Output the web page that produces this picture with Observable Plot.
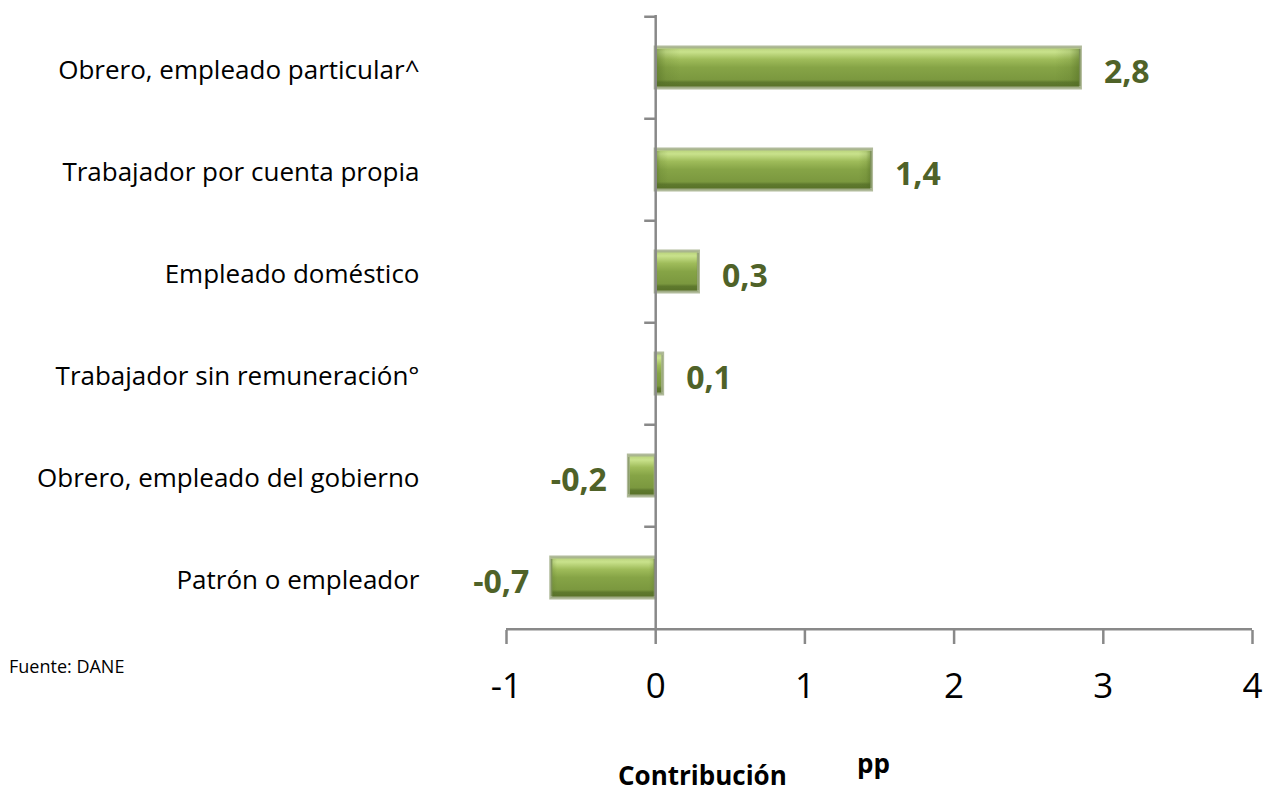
<!DOCTYPE html>
<html>
<head>
<meta charset="utf-8">
<script src="https://cdn.jsdelivr.net/npm/d3@7"></script>
<script src="https://cdn.jsdelivr.net/npm/@observablehq/plot@0.6"></script>
<style>
  html, body { margin: 0; padding: 0; background: #fff; }
  #wrap { position: relative; width: 1266px; height: 791px; font-family: "Open Sans", sans-serif; }
  #chart { position: absolute; left: 0; top: 0; }
  .note { position: absolute; color: #000; white-space: nowrap; line-height: normal; }
</style>
</head>
<body>
<div id="wrap">
  <div id="chart"></div>
  <div class="note" style="left:9px; top:654px; font-size:18px;">Fuente: DANE</div>
  <div class="note" style="left:618px; top:757px; font-size:26px; font-weight:bold;">Contribución</div>
  <div class="note" style="left:857px; top:745px; font-size:26px; font-weight:bold;">pp</div>
</div>
<script>
const categories = [
  "Obrero, empleado particular^",
  "Trabajador por cuenta propia",
  "Empleado doméstico",
  "Trabajador sin remuneración°",
  "Obrero, empleado del gobierno",
  "Patrón o empleador"
];
const values = [2.85, 1.45, 0.29, 0.05, -0.18, -0.70];
const labels = ["2,8", "1,4", "0,3", "0,1", "-0,2", "-0,7"];
const xTicks = [-1, 0, 1, 2, 3, 4];

const data = categories.map((c, i) => ({cat: c, value: values[i], label: labels[i]}));
const pos = data.filter(d => d.value >= 0);
const neg = data.filter(d => d.value < 0);

const W = 1266, H = 720, mTop = 15, mBottom = 90;
const step = (H - mTop - mBottom) / categories.length;
const axisColor = "#898989";
const green = "#4f6228";

const plot = Plot.plot({
  width: W,
  height: H,
  marginLeft: 506,
  marginRight: 14,
  marginTop: mTop,
  marginBottom: mBottom,
  style: {fontFamily: "Open Sans, sans-serif", background: "transparent", overflow: "visible"},
  x: {domain: [-1, 4], ticks: xTicks, axis: null},
  y: {domain: categories, paddingInner: 0.6, paddingOuter: 0.3, axis: null},
  marks: [
    Plot.barX(data, {y: "cat", x: "value", fill: "url(#barGrad)", stroke: "#a7b38f", strokeWidth: 3, strokeOpacity: 0.9}),
    Plot.barX(data, {y: "cat", x: "value", fill: "url(#endGrad)", insetTop: 2, insetBottom: 2}),
    Plot.ruleX([0], {stroke: axisColor, strokeWidth: 2.5}),
    Plot.ruleY(categories, {y: d => d, x1: () => 0, x2: () => 0, insetLeft: -11, dy: -step / 2, stroke: axisColor, strokeWidth: 2.5}),
    Plot.ruleY([categories[categories.length - 1]], {y: d => d, x1: () => -1, x2: () => 4, dy: step / 2, stroke: axisColor, strokeWidth: 2.5}),
    Plot.axisX({ticks: xTicks, tickSize: 14, tickPadding: 29, tickFormat: d => String(d).replace("−", "-"), fontSize: 35, stroke: axisColor, strokeWidth: 2.5, color: "#000", label: null}),
    Plot.axisY({tickSize: 0, tickPadding: 87, fontSize: 26, color: "#000", label: null, dy: 3}),
    Plot.text(pos, {y: "cat", x: "value", text: "label", textAnchor: "start", dx: 23, dy: 5, fill: green, fontSize: 32, fontWeight: "bold"}),
    Plot.text(neg, {y: "cat", x: "value", text: "label", textAnchor: "end", dx: -22, dy: 5, fill: green, fontSize: 32, fontWeight: "bold"})
  ]
});

const svg = plot.tagName.toLowerCase() === "svg" ? plot : plot.querySelector("svg");
const ns = "http://www.w3.org/2000/svg";
const defs = document.createElementNS(ns, "defs");
defs.innerHTML = `
  <linearGradient id="barGrad" x1="0" y1="0" x2="0" y2="1">
    <stop offset="0" stop-color="#b5cf78"/>
    <stop offset="0.12" stop-color="#c9e28c"/>
    <stop offset="0.3" stop-color="#9fbc5a"/>
    <stop offset="0.5" stop-color="#86a446"/>
    <stop offset="0.8" stop-color="#7b983f"/>
    <stop offset="0.86" stop-color="#5f7a2e"/>
    <stop offset="1" stop-color="#576f27"/>
  </linearGradient>
  <linearGradient id="endGrad" x1="0" y1="0" x2="1" y2="0">
    <stop offset="0" stop-color="#4f6a22" stop-opacity="0.55"/>
    <stop offset="0.025" stop-color="#4f6a22" stop-opacity="0.15"/>
    <stop offset="0.06" stop-color="#4f6a22" stop-opacity="0"/>
    <stop offset="0.94" stop-color="#4f6a22" stop-opacity="0"/>
    <stop offset="0.975" stop-color="#4f6a22" stop-opacity="0.15"/>
    <stop offset="1" stop-color="#4f6a22" stop-opacity="0.55"/>
  </linearGradient>`;
svg.insertBefore(defs, svg.firstChild);
document.getElementById("chart").appendChild(plot);
</script>
</body>
</html>
